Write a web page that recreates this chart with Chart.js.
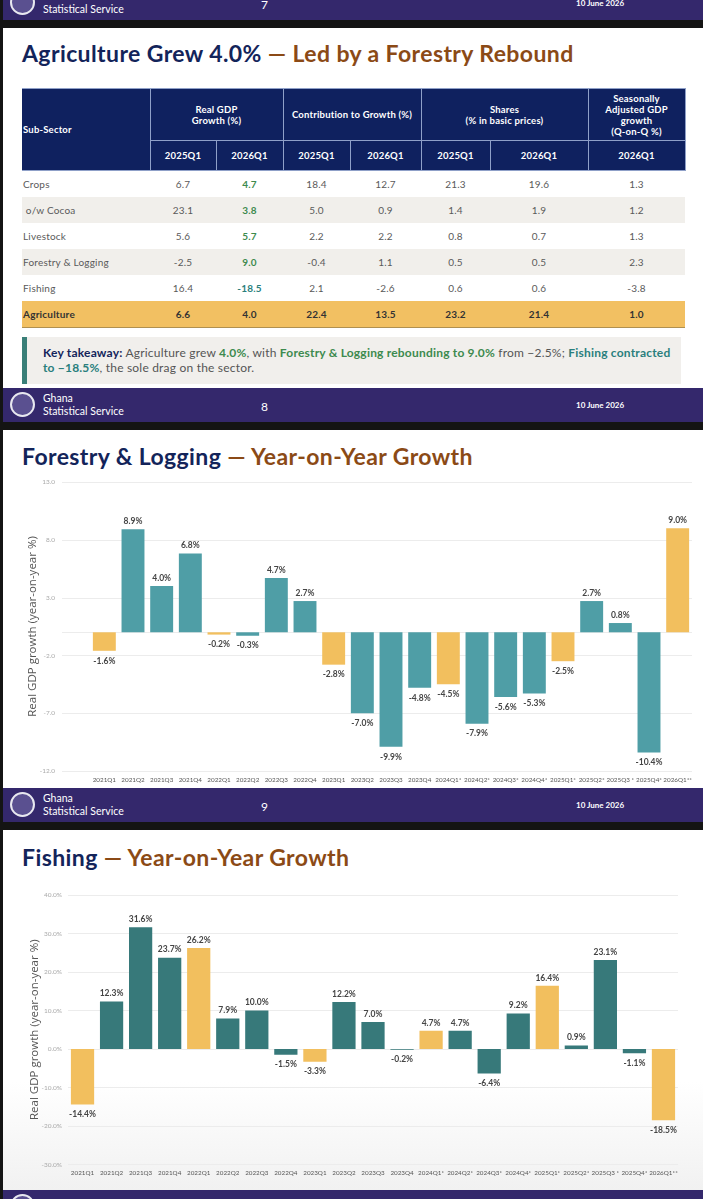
<!DOCTYPE html>
<html>
<head>
<meta charset="utf-8">
<script src="https://cdn.jsdelivr.net/npm/chart.js@4.4.1/dist/chart.umd.min.js"></script>
<style>
  html, body { margin: 0; padding: 0; }
  body { width: 703px; height: 1199px; background: #141414; position: relative; overflow: hidden; font-family: 'Lato', 'Open Sans', sans-serif; }
  .slide { position: absolute; left: 3px; width: 700px; background: #fff; }
  .footer { position: absolute; left: 3px; width: 700px; height: 34px; background: #34286c; color: #fff; }
  .footer .logo { position: absolute; left: 7px; top: 4px; width: 25px; height: 25px; border-radius: 50%; border: 2px solid #e8e8f0; background: #5a5090; box-sizing: border-box; }
  .footer .org { position: absolute; left: 40px; top: 4px; font-size: 10.5px; line-height: 13px; }
  .footer .num { position: absolute; left: 258px; top: 11px; font-size: 12px; }
  .footer .date { position: absolute; left: 573px; top: 12px; font-size: 8px; font-weight: bold; }
  .title { position: absolute; left: 19px; font-size: 23px; font-weight: 700; letter-spacing: 0.4px; white-space: nowrap; }
  .title .a { color: #13245a; }
  .title .b { color: #8b4a16; }
  table { position: absolute; left: 19px; top: 60px; border-collapse: collapse; table-layout: fixed; font-size: 9.5px; }
  th { background: #0f215f; color: #fff; font-weight: 700; border: 1px solid #8fa0c8; text-align: center; padding: 0; line-height: 11px; letter-spacing: 0.2px; }
  td { text-align: center; color: #5a5a5a; padding: 0; height: 26px; font-size: 10px; letter-spacing: 0.2px; }
  td.name { text-align: left; padding-left: 1px; }
  tr.alt td { background: #f1efeb; }
  tr.total td { background: #f2c062; color: #333; font-weight: 700; border-bottom: 1px solid #b09050; }
  td.g { color: #3d8a4e; font-weight: 700; }
  td.t { color: #2a7f7d; font-weight: 700; }
  .takeaway { position: absolute; left: 19px; top: 309px; width: 659px; height: 47px; background: #f1efec; border-left: 5px solid #3a7f78; font-size: 12px; line-height: 15px; color: #555; padding: 8px 6px 0 16px; box-sizing: border-box; letter-spacing: 0.2px; }
  .takeaway .k { color: #13245a; font-weight: 700; }
  .takeaway .g { color: #3d8a4e; font-weight: 700; }
  .takeaway .t { color: #2a7f7d; font-weight: 700; }
  canvas { position: absolute; left: 0; }
</style>
</head>
<body>
<div class="footer" style="top:-14px;"><div class="logo"></div><div class="org">Ghana<br>Statistical Service</div><div class="num">7</div><div class="date">10 June 2026</div></div>

<div class="slide" style="top:28px;height:360px;">
  <div class="title" style="top:11px;"><span class="a">Agriculture Grew 4.0%</span> <span class="b">— Led by a Forestry Rebound</span></div>
  <table id="tbl"></table>
  <div class="takeaway"><span class="k">Key takeaway:</span> Agriculture grew <span class="g">4.0%</span>, with <span class="g">Forestry &amp; Logging rebounding to 9.0%</span> from −2.5%; <span class="t">Fishing contracted to −18.5%</span>, the sole drag on the sector.</div>
</div>

<div class="slide" style="top:430px;height:358px;">
  <div class="title" style="top:12px;"><span class="a">Forestry &amp; Logging</span> <span class="b">— Year-on-Year Growth</span></div>
</div>
<canvas id="forestry" width="703" height="367" style="top:443px;"></canvas>
<div class="footer" style="top:388px;"><div class="logo"></div><div class="org">Ghana<br>Statistical Service</div><div class="num">8</div><div class="date">10 June 2026</div></div>
<div class="footer" style="top:788px;"><div class="logo"></div><div class="org">Ghana<br>Statistical Service</div><div class="num">9</div><div class="date">10 June 2026</div></div>

<div class="slide" style="top:830px;height:360px;background:linear-gradient(#fff 70%, #f1f1f1);">
  <div class="title" style="top:13px;"><span class="a">Fishing</span> <span class="b">— Year-on-Year Growth</span></div>
</div>
<canvas id="fishing" width="703" height="310" style="top:880px;"></canvas>
<div class="footer" style="top:1190px;"><div class="logo"></div></div>

<script>
// table data
const subSectors = ['Crops', ' o/w Cocoa', 'Livestock', 'Forestry & Logging', 'Fishing', 'Agriculture'];
const growth2025 = ['6.7', '23.1', '5.6', '-2.5', '16.4', '6.6'];
const growth2026 = ['4.7', '3.8', '5.7', '9.0', '-18.5', '4.0'];
const contrib2025 = ['18.4', '5.0', '2.2', '-0.4', '2.1', '22.4'];
const contrib2026 = ['12.7', '0.9', '2.2', '1.1', '-2.6', '13.5'];
const shares2025 = ['21.3', '1.4', '0.8', '0.5', '0.6', '23.2'];
const shares2026 = ['19.6', '1.9', '0.7', '0.5', '0.6', '21.4'];
const saGrowth = ['1.3', '1.2', '1.3', '2.3', '-3.8', '1.0'];

// chart data
const quarters = ['2021Q1', '2021Q2', '2021Q3', '2021Q4', '2022Q1', '2022Q2', '2022Q3', '2022Q4',
  '2023Q1', '2023Q2', '2023Q3', '2023Q4', '2024Q1*', '2024Q2*', '2024Q3*', '2024Q4*',
  '2025Q1*', '2025Q2*', '2025Q3 *', '2025Q4*', '2026Q1**'];
const forestryGrowth = [-1.6, 8.9, 4.0, 6.8, -0.2, -0.3, 4.7, 2.7, -2.8, -7.0, -9.9, -4.8,
  -4.5, -7.9, -5.6, -5.3, -2.5, 2.7, 0.8, -10.4, 9.0];
const fishingGrowth = [-14.4, 12.3, 31.6, 23.7, 26.2, 7.9, 10.0, -1.5, -3.3, 12.2, 7.0, -0.2,
  4.7, 4.7, -6.4, 9.2, 16.4, 0.9, 23.1, -1.1, -18.5];
const forestryTicks = [-12, -7, -2, 3, 8, 13];
const fishingTicks = [-30, -20, -10, 0, 10, 20, 30, 40];

const GOLD = '#f2bf5e';

// build table
const widths = [128, 66, 67, 67, 71, 69, 98, 97];
let html = '<colgroup>' + widths.map(w => `<col style="width:${w}px">`).join('') + '</colgroup>';
html += `<tr style="height:52px"><th rowspan="2" style="text-align:left;padding-left:1px;border-left:none">Sub-Sector</th>
  <th colspan="2">Real GDP<br>Growth (%)</th><th colspan="2">Contribution to Growth (%)</th>
  <th colspan="2">Shares<br>(% in basic prices)</th><th>Seasonally<br>Adjusted GDP<br>growth<br>(Q-on-Q %)</th></tr>`;
html += '<tr style="height:30px">' + ['2025Q1', '2026Q1', '2025Q1', '2026Q1', '2025Q1', '2026Q1', '2026Q1'].map(q => `<th>${q}</th>`).join('') + '</tr>';
subSectors.forEach((s, i) => {
  const cls = i === 5 ? 'total' : (i % 2 === 1 ? 'alt' : '');
  const gcls = i === 5 ? '' : (i === 4 ? 't' : 'g');
  html += `<tr class="${cls}"><td class="name">${s.replace(/ /, i === 1 ? '&nbsp;' : ' ')}</td>
    <td>${growth2025[i]}</td><td class="${gcls}">${growth2026[i]}</td>
    <td>${contrib2025[i]}</td><td>${contrib2026[i]}</td>
    <td>${shares2025[i]}</td><td>${shares2026[i]}</td><td>${saGrowth[i]}</td></tr>`;
});
document.getElementById('tbl').innerHTML = html;

// custom gridlines that can start left of the plot area
const gridLines = {
  id: 'gridLines',
  beforeDatasetsDraw(chart, args, opts) {
    const ctx = chart.ctx;
    const y = chart.scales.y;
    ctx.save();
    ctx.strokeStyle = '#ececec';
    ctx.lineWidth = 1;
    const vals = y.ticks.map(t => t.value);
    if (opts.zero) vals.push(0);
    vals.forEach(v => {
      const py = Math.round(y.getPixelForValue(v)) + 0.5;
      ctx.beginPath();
      ctx.moveTo(opts.left, py);
      ctx.lineTo(chart.chartArea.right, py);
      ctx.stroke();
    });
    ctx.restore();
  }
};

// value labels above / below the bars
const barLabels = {
  id: 'barLabels',
  afterDatasetsDraw(chart) {
    const ctx = chart.ctx;
    const data = chart.data.datasets[0].data;
    ctx.save();
    ctx.font = 'bold 8.5px Lato';
    ctx.fillStyle = '#454545';
    ctx.textAlign = 'center';
    ctx.textBaseline = 'middle';
    chart.getDatasetMeta(0).data.forEach((bar, i) => {
      const v = data[i];
      const y = v >= 0 ? bar.y - 8 : bar.y + 10;
      ctx.fillText(v.toFixed(1) + '%', bar.x, y);
    });
    ctx.restore();
  }
};

function makeChart(id, values, teal, ticks, o) {
  return new Chart(document.getElementById(id), {
    type: 'bar',
    data: {
      labels: quarters,
      datasets: [{
        data: values,
        backgroundColor: quarters.map(q => q.includes('Q1') ? GOLD : teal),
        barPercentage: 1,
        categoryPercentage: 0.8
      }]
    },
    options: {
      responsive: false,
      animation: false,
      layout: { padding: o.padding },
      scales: {
        x: {
          grid: { display: false, drawTicks: false },
          border: { display: false },
          ticks: { autoSkip: false, maxRotation: 0, minRotation: 0, padding: 5, color: '#555', font: { family: 'Lato', size: 6.3 } }
        },
        y: {
          min: ticks[0],
          max: ticks[ticks.length - 1],
          ticks: {
            stepSize: ticks[1] - ticks[0],
            padding: o.tickPad,
            color: '#aaa',
            font: { family: 'Lato', size: 6.5 },
            callback: v => v.toFixed(1) + o.suffix
          },
          grid: { display: false, drawTicks: false },
          border: { display: false },
          title: { display: true, text: 'Real GDP growth (year-on-year %)', color: '#555', font: { family: 'Open Sans', size: 11.5 }, padding: { top: o.titlePad, bottom: 0 } },
          afterFit(scale) { scale.width = o.axisWidth; }
        }
      },
      plugins: {
        legend: { display: false },
        tooltip: { enabled: false },
        gridLines: { left: o.gridLeft, zero: o.zero }
      }
    },
    plugins: [gridLines, barLabels]
  });
}

makeChart('forestry', forestryGrowth, '#4f9ea6', forestryTicks, {
  padding: { top: 0, right: 11, bottom: 0, left: 0 },
  axisWidth: 90, tickPad: 35, titlePad: 26, gridLeft: 62, suffix: '', zero: true
});
makeChart('fishing', fishingGrowth, '#37797a', fishingTicks, {
  padding: { top: 15, right: 25, bottom: 8, left: 0 },
  axisWidth: 68, tickPad: 6, titlePad: 28, gridLeft: 68, suffix: '%', zero: false
});
</script>
</body>
</html>
